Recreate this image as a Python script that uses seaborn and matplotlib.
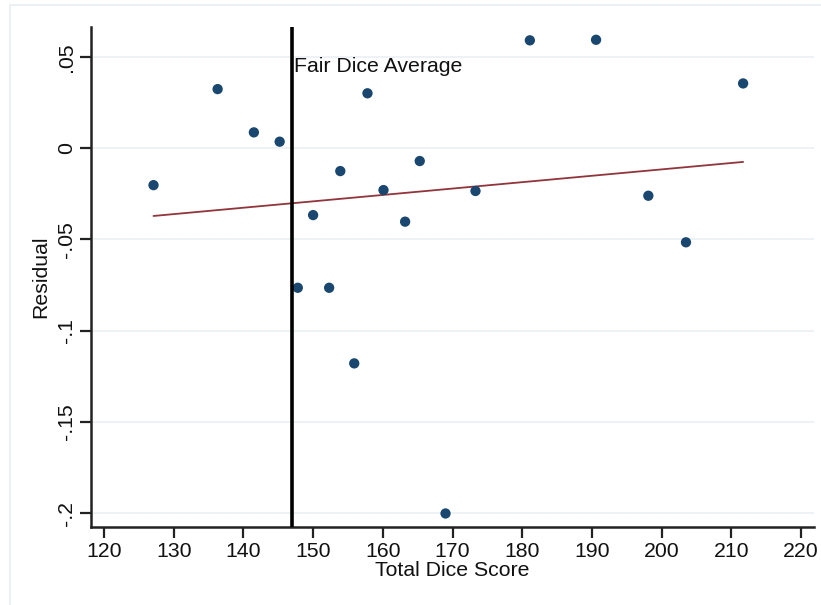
import matplotlib
matplotlib.use("Agg")
import matplotlib.pyplot as plt
from matplotlib.patches import Rectangle
import numpy as np
import pandas as pd
import seaborn as sns

# Total dice score per player and the residual from the fairness model
total_score = [127.1, 136.3, 141.5, 145.2, 147.8, 150.0, 152.3, 153.9, 155.9, 157.8,
               160.1, 163.2, 165.3, 169.0, 173.3, 181.1, 190.6, 198.1, 203.5, 211.7]
residual = [-0.0203, 0.0323, 0.0086, 0.0035, -0.0765, -0.0367, -0.0765, -0.0126, -0.1179, 0.0300,
            -0.0230, -0.0403, -0.0071, -0.2001, -0.0235, 0.0590, 0.0593, -0.0261, -0.0516, 0.0354]

fair_average = 147.0
x_ticks = [120, 130, 140, 150, 160, 170, 180, 190, 200, 210, 220]
y_ticks = [0.05, 0.0, -0.05, -0.1, -0.15, -0.2]
y_tick_labels = [".05", "0", "-.05", "-.1", "-.15", "-.2"]

df = pd.DataFrame({"Total Dice Score": total_score, "Residual": residual})

sns.set_theme(style="white")
plt.rcParams["font.family"] = ["Liberation Sans", "DejaVu Sans"]

FS = 15.3
TXT = "#111111"

fig = plt.figure(figsize=(8.21, 6.05), dpi=100)
fig.patch.set_facecolor("white")
ax = fig.add_axes([91 / 821, 1 - 527 / 605, (814 - 91) / 821, (527 - 27) / 605])

# light outline around the graph region
fig.patches.append(Rectangle((10 / 821, -0.01), 1.0, 1 - 5 / 605 + 0.01, transform=fig.transFigure,
                             fill=False, edgecolor="#e6edf1", linewidth=1.2, zorder=0))

for yt in y_ticks:
    ax.axhline(yt, color="#eaf1f4", linewidth=1.2, zorder=0)

sns.regplot(data=df, x="Total Dice Score", y="Residual", scatter=False, ci=None,
            color="#90353b", line_kws={"linewidth": 1.3, "zorder": 2}, ax=ax)
sns.scatterplot(data=df, x="Total Dice Score", y="Residual", color="#1a476f", s=55,
                edgecolor="none", zorder=3, ax=ax)

ax.axvline(fair_average, color="black", linewidth=2.6, zorder=4)
ax.text(fair_average + 0.3, 0.0445, "Fair Dice Average", fontsize=FS, color=TXT,
        ha="left", va="center", zorder=5)

ax.set_xlim(118.13, 221.87)
ax.set_ylim(-0.2075, 0.0663)
ax.set_xticks(x_ticks)
ax.set_xticklabels([str(t) for t in x_ticks], fontsize=FS, color=TXT)
ax.set_yticks(y_ticks)
ax.set_yticklabels(y_tick_labels, fontsize=FS, color=TXT, rotation=90, va="center")

ax.set_xlabel("Total Dice Score", fontsize=FS, color=TXT, labelpad=0)
ax.set_ylabel("Residual", fontsize=FS, color=TXT, labelpad=5)

for side in ["top", "right"]:
    ax.spines[side].set_visible(False)
for side in ["left", "bottom"]:
    ax.spines[side].set_color("#222222")
    ax.spines[side].set_linewidth(1.8)
ax.tick_params(axis="both", which="both", direction="out", length=8, width=1.6,
               color="#222222", pad=3, left=True, bottom=True)
ax.set_facecolor("white")

fig.savefig("out.png", dpi=100, facecolor="white")
